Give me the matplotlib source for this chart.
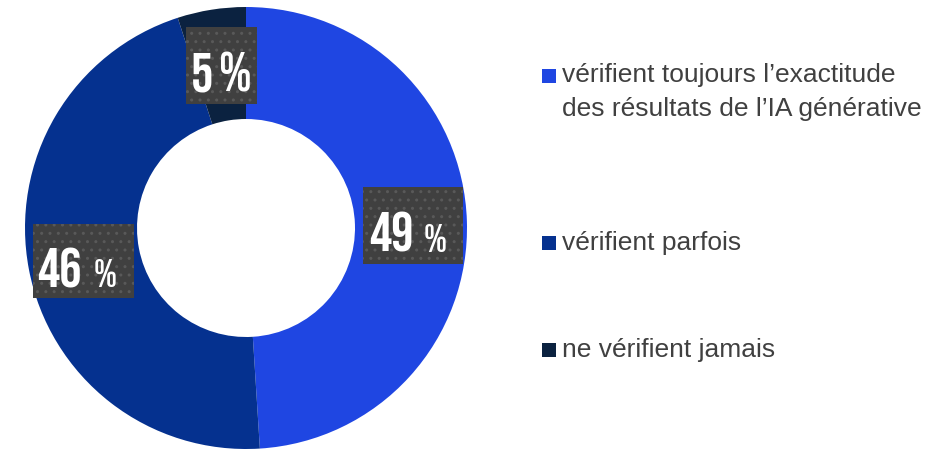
import matplotlib.pyplot as plt
from matplotlib.patches import Rectangle
from matplotlib import font_manager

# valeurs
categories = ["vérifient toujours l’exactitude\ndes résultats de l’IA générative",
              "vérifient parfois",
              "ne vérifient jamais"]
values = [49, 46, 5]
colors = ["#1f46e2", "#05318f", "#0b2240"]

# étiquettes : boîte (x0, y0, x1, y1 en pixels depuis le haut)
label_boxes = [(363, 187, 463, 264), (33, 224, 134, 298), (186, 27, 257, 104)]
num_right = [414, 82, 213]
baselines = [252, 287, 91]
pct_sizes = [28, 28, 40]
pct_gaps = [10, 12, 6]
legend_y = [76, 243, 350]

# police condensée
names = {f.name for f in font_manager.fontManager.ttflist}
cond = "DejaVu Sans"
for name in ["Bebas Neue", "Oswald", "Roboto Condensed"]:
    if name in names:
        cond = name
        break

W, H = 949, 449
fig = plt.figure(figsize=(W / 100, H / 100), dpi=100)
ax = fig.add_axes([0, 0, 1, 1])

cx, cy, r_out, r_in = 246, H - 228, 221, 109
ax.pie(values, colors=colors, startangle=90, counterclock=False,
       center=(cx, cy), radius=r_out, frame=True,
       wedgeprops=dict(width=r_out - r_in, linewidth=0))
ax.set_xlim(0, W)
ax.set_ylim(0, H)
ax.set_aspect("auto")
ax.axis("off")

for v, box, xr, yb, ps, gap in zip(values, label_boxes, num_right, baselines, pct_sizes, pct_gaps):
    x0, y0, x1, y1 = box
    ax.add_patch(Rectangle((x0, H - y1), x1 - x0, y1 - y0, facecolor="#404040",
                           edgecolor="#595959", hatch="..", linewidth=0, zorder=3))
    ax.text(xr, H - yb, str(v), ha="right", va="baseline", fontsize=40,
            family=cond, color="white", zorder=4)
    ax.text(xr + gap, H - yb, "%", ha="left", va="baseline", fontsize=ps,
            family=cond, color="white", zorder=4)

# légende
for cat, c, y in zip(categories, colors, legend_y):
    ax.add_patch(Rectangle((542, H - y - 7), 14, 14, facecolor=c, linewidth=0))
    ty = y + 16 if "\n" in cat else y
    ax.text(562, H - ty, cat, ha="left", va="center",
            fontsize=19, family=["Liberation Sans", "DejaVu Sans"], color="#404040",
            linespacing=1.55)

fig.savefig("out.png", dpi=100)
